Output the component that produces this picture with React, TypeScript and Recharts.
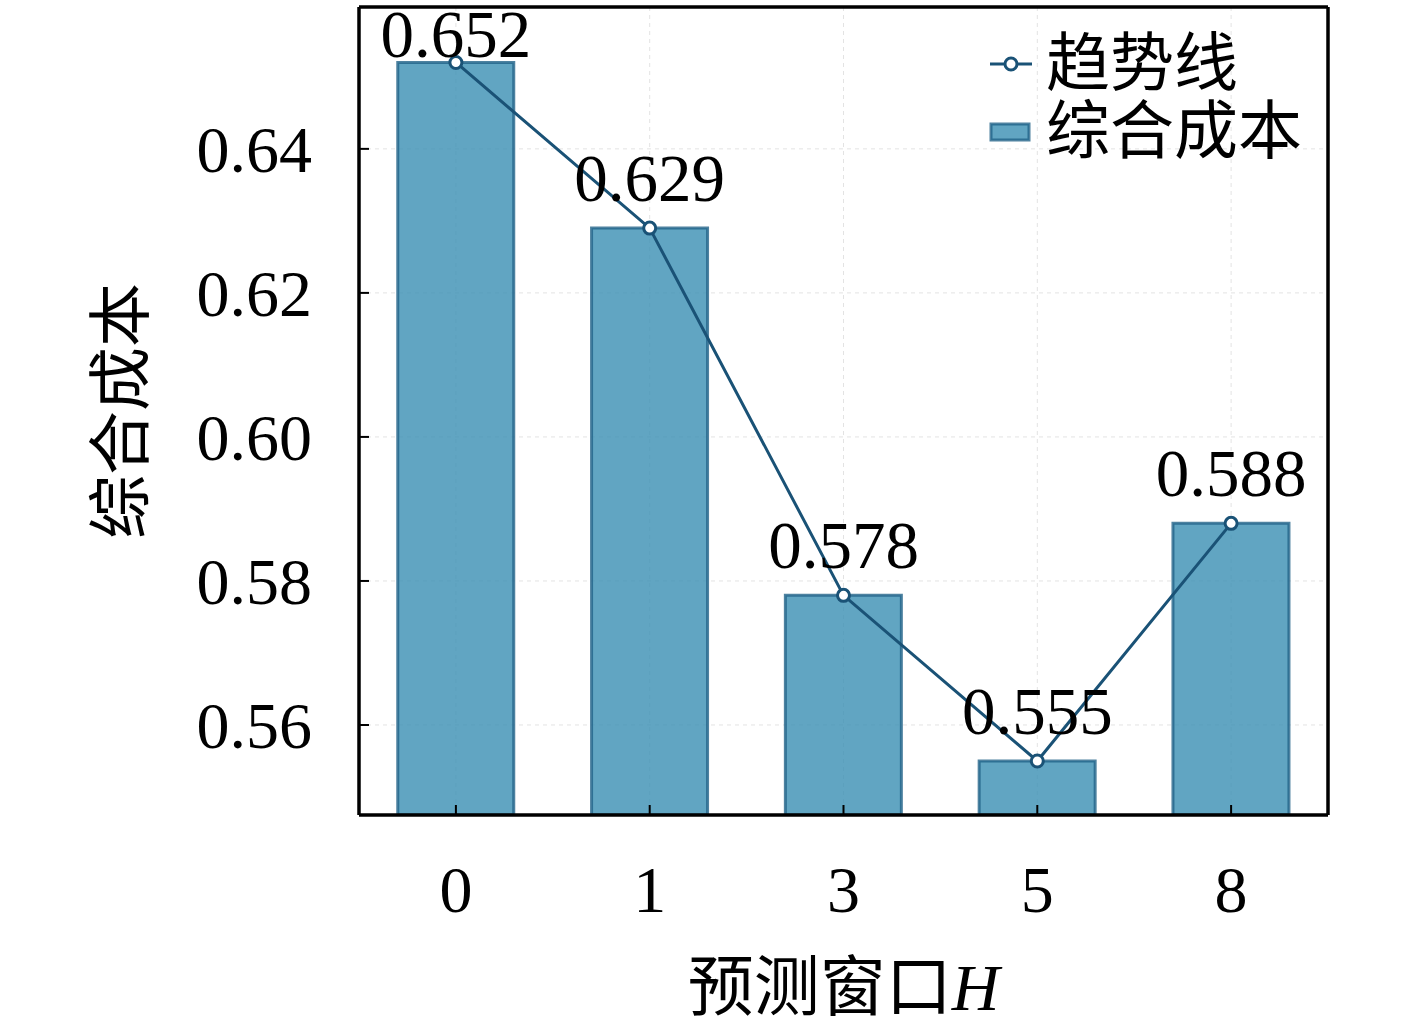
import { FC } from "react";
import {
  Bar,
  CartesianGrid,
  ComposedChart,
  LabelList,
  Line,
  XAxis,
  YAxis,
} from "recharts";

const windows = ["0", "1", "3", "5", "8"];
const costValues = [0.652, 0.629, 0.578, 0.555, 0.588];
const trendValues = [0.652, 0.629, 0.578, 0.555, 0.588];
const yTicks = [0.56, 0.58, 0.6, 0.62, 0.64];

const FONT = "'Liberation Serif', 'DejaVu Serif', 'Noto Sans CJK SC', serif";
const LINE_COLOR = "#1a5276";
const BAR_FILL = "#3a8eb3";
const BAR_EDGE = "#226388";
const FRAME = { stroke: "#000", strokeWidth: 3.5 };

const chartData = windows.map((h, i) => ({
  h,
  cost: costValues[i],
  trend: trendValues[i],
}));

// value label above each point, kept inside the top of the frame
const PointLabel = (props: any) => {
  const px = props.x ?? props.viewBox?.x;
  const py = props.y ?? props.viewBox?.y;
  const ty = Math.max(py - 27, 57);
  return (
    <text x={px} y={ty} textAnchor="middle" fontFamily={FONT} fontSize={67} fill="#000">
      {Number(props.value).toFixed(3)}
    </text>
  );
};

const LegendBox: FC = () => (
  <div
    style={{
      position: "absolute",
      left: 988,
      top: 30,
      fontFamily: FONT,
      fontSize: 64,
      color: "#000",
      lineHeight: "68px",
    }}
  >
    <div style={{ display: "flex", alignItems: "center" }}>
      <svg width={46} height={30} style={{ marginRight: 12 }}>
        <line x1={2} y1={15} x2={44} y2={15} stroke={LINE_COLOR} strokeWidth={3} />
        <circle cx={23} cy={15} r={6} fill="#fff" stroke={LINE_COLOR} strokeWidth={3} />
      </svg>
      <span>趋势线</span>
    </div>
    <div style={{ display: "flex", alignItems: "center" }}>
      <svg width={46} height={30} style={{ marginRight: 12 }}>
        <rect
          x={3}
          y={7}
          width={38}
          height={16}
          fill={BAR_FILL}
          fillOpacity={0.8}
          stroke={BAR_EDGE}
          strokeOpacity={0.8}
          strokeWidth={3}
        />
      </svg>
      <span>综合成本</span>
    </div>
  </div>
);

const App: FC = () => {
  return (
    <div style={{ position: "absolute", left: 0, top: 0, width: 1417, height: 1025 }}>
      <ComposedChart
        width={1417}
        height={1025}
        data={chartData}
        margin={{ top: 6, right: 88, bottom: 0, left: 0 }}
        barCategoryGap="20%"
      >
        <CartesianGrid stroke="#e3e3e3" strokeDasharray="4 4" strokeWidth={1} />
        <XAxis
          dataKey="h"
          height={210}
          axisLine={FRAME}
          tickLine={{ stroke: "#000", strokeWidth: 2 }}
          tickSize={-10}
          tickMargin={60}
          tick={{ fontFamily: FONT, fontSize: 66, fill: "#000" }}
          label={{
            content: (props: any) => {
              const vb = props.viewBox;
              return (
                <text
                  x={vb.x + vb.width / 2}
                  y={vb.y + 195}
                  textAnchor="middle"
                  fontFamily={FONT}
                  fontSize={66}
                  fill="#000"
                >
                  预测窗口
                  <tspan fontStyle="italic">H</tspan>
                </text>
              );
            },
          }}
        />
        <XAxis
          xAxisId="top"
          dataKey="h"
          orientation="top"
          height={1}
          tick={false}
          tickLine={false}
          axisLine={FRAME}
        />
        <YAxis
          width={359}
          domain={[0.5475, 0.6597]}
          allowDataOverflow
          ticks={yTicks}
          tickFormatter={(v: number) => v.toFixed(2)}
          axisLine={FRAME}
          tickLine={{ stroke: "#000", strokeWidth: 2 }}
          tickSize={-10}
          tickMargin={57}
          tick={{ fontFamily: FONT, fontSize: 66, fill: "#000" }}
          label={{
            value: "综合成本",
            angle: -90,
            position: "insideLeft",
            offset: 120,
            style: { fontFamily: FONT, fontSize: 64, fill: "#000", textAnchor: "middle" },
          }}
        />
        <YAxis
          yAxisId="right"
          orientation="right"
          width={1}
          domain={[0.5475, 0.6597]}
          tick={false}
          tickLine={false}
          axisLine={FRAME}
        />
        <Bar
          dataKey="cost"
          name="综合成本"
          fill={BAR_FILL}
          fillOpacity={0.8}
          stroke={BAR_EDGE}
          strokeOpacity={0.8}
          strokeWidth={3}
          isAnimationActive={false}
        />
        <Line
          dataKey="trend"
          name="趋势线"
          type="linear"
          stroke={LINE_COLOR}
          strokeWidth={3}
          dot={{ r: 6, fill: "#fff", stroke: LINE_COLOR, strokeWidth: 3 }}
          activeDot={false}
          isAnimationActive={false}
        >
          <LabelList dataKey="trend" content={PointLabel} />
        </Line>
      </ComposedChart>
      <LegendBox />
    </div>
  );
};

export default App;
